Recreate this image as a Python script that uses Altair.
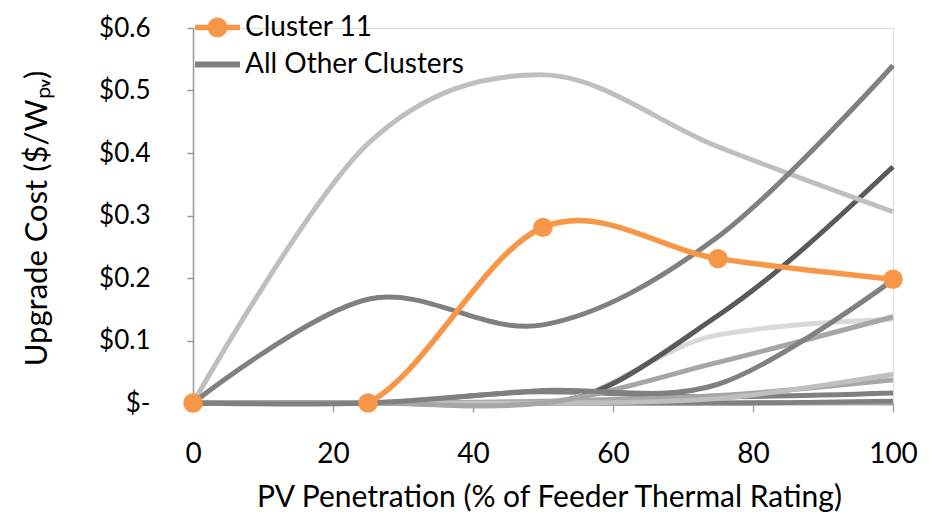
import altair as alt
import pandas as pd

# ---- data ----
x_pct = [0, 25, 50, 75, 100]
cluster11 = [0.0, 0.0, 0.281, 0.231, 0.198]

other_series = {
    "c01": [0.0, 0.415, 0.525, 0.41, 0.306],
    "c02": [0.0, 0.166, 0.125, 0.266, 0.54],
    "c03": [0.0, 0.0, 0.0, 0.14, 0.378],
    "c04": [0.0, 0.0, 0.02, 0.03, 0.197],
    "c05": [0.0, 0.0, 0.0, 0.109, 0.134],
    "c06": [0.0, 0.0, 0.0, 0.065, 0.138],
    "c07": [0.0, 0.0, 0.0, 0.007, 0.046],
    "c08": [0.0, 0.0, 0.003, 0.012, 0.037],
    "c09": [0.0, 0.0, 0.018, 0.01, 0.016],
    "c10": [0.0, 0.0, 0.0, 0.0, 0.003],
    "c11": [0.0, 0.0, 0.0, 0.0, 0.0],
}
other_colors = {
    "c01": "#BFBFBF", "c02": "#808080", "c03": "#5A5A5A", "c04": "#808080",
    "c05": "#D9D9D9", "c06": "#A6A6A6", "c07": "#BFBFBF", "c08": "#A6A6A6",
    "c09": "#808080", "c10": "#808080", "c11": "#A6A6A6",
}
other_smooth = {
    "c01": "cardinal", "c02": "cardinal", "c03": "monotone", "c04": "cardinal",
    "c05": "monotone", "c06": "cardinal", "c07": "cardinal", "c08": "cardinal",
    "c09": "monotone", "c10": "monotone", "c11": "monotone",
}
draw_order = ["c11", "c10", "c09", "c08", "c07", "c05", "c03", "c06", "c04", "c01", "c02"]

legend_labels = ["Cluster 11", "All Other Clusters"]
legend_colors = ["#F79646", "#808080"]
legend_paths = [
    "M -1 -0.12 L 1 -0.12 L 1 0.12 L -1 0.12 Z "
    "M 0 -0.44 A 0.44 0.44 0 1 1 0 0.44 A 0.44 0.44 0 1 1 0 -0.44 Z",
    "M -1 -0.13 L 1 -0.13 L 1 0.13 L -1 0.13 Z",
]

x_ticks = [0, 20, 40, 60, 80, 100]
y_ticks = [0.0, 0.1, 0.2, 0.3, 0.4, 0.5, 0.6]
y_tick_labels = ["$-", "$0.1", "$0.2", "$0.3", "$0.4", "$0.5", "$0.6"]

x_title = "PV Penetration (% of Feeder Thermal Rating)"
y_title = "Upgrade Cost ($/Wₚᵥ)"

# ---- tables ----
rows = []
for k, sid in enumerate(draw_order):
    for xv, yv in zip(x_pct, other_series[sid]):
        rows.append({"series": sid, "order": k, "x": xv, "y": yv,
                     "color": other_colors[sid], "interp": other_smooth[sid]})
others_df = pd.DataFrame(rows)
c11_df = pd.DataFrame({"x": x_pct, "y": cluster11, "legend": legend_labels[0]})

label_expr = "''"
for v, lab in reversed(list(zip(y_ticks, y_tick_labels))):
    label_expr = f"abs(datum.value - {v}) < 1e-6 ? '{lab}' : ({label_expr})"

FONT = "Lato"

x_enc = alt.X(
    "x:Q",
    scale=alt.Scale(domain=[0, 100], nice=False, zero=False),
    axis=alt.Axis(
        values=x_ticks, title=x_title, grid=False, domain=True, domainColor="#A6A6A6",
        tickColor="#A6A6A6", tickSize=9, tickWidth=1.5, labelPadding=28,
        labelFontSize=28, labelFont=FONT, labelColor="black", labelFlush=False,
        titleFont=FONT, titleFontSize=30, titleFontWeight="normal", titleColor="black",
        titleX=356, titleY=94, titleBaseline="middle", titleAlign="center",
    ),
)
y_axis = alt.Axis(
    values=y_ticks, labelExpr=label_expr, title=y_title, grid=False,
    domainColor="#999999", domainWidth=1.5, tickColor="#999999", tickSize=6, tickWidth=1.5,
    labelPadding=37, labelFontSize=26, labelFont=FONT, labelColor="black",
    labelBaseline="middle",
    titleFont=FONT, titleFontSize=31, titleFontWeight="normal", titleColor="black",
    titleAngle=270, titleX=-156, titleY=190, titleBaseline="middle", titleAlign="center",
)
y_enc = alt.Y("y:Q", scale=alt.Scale(domain=[0, 0.6], nice=False), axis=y_axis)


def gray_layer(kind):
    return alt.Chart(others_df).transform_filter(
        alt.datum.interp == kind
    ).mark_line(
        interpolate=kind, tension=0, strokeWidth=5, strokeCap="butt"
    ).encode(
        x=x_enc, y=y_enc,
        color=alt.Color("color:N", scale=None),
        detail="series:N",
        order=alt.Order("x:Q"),
    )


gray_mono = gray_layer("monotone")
gray_card = gray_layer("cardinal")

orange_line = alt.Chart(c11_df).mark_line(
    interpolate="cardinal", tension=0, strokeWidth=5.5, color="#F79646", clip=True
).encode(x="x:Q", y="y:Q")

orange_pts = alt.Chart(c11_df).mark_circle(size=380, opacity=1, color="#F79646").encode(
    x="x:Q", y="y:Q"
)

leg = alt.Legend(
    title=None, orient="none", legendX=2, legendY=-23, padding=0, rowPadding=0,
    symbolSize=2025, symbolStrokeWidth=0, labelFont=FONT, labelFontSize=28,
    labelColor="black", labelLimit=500, labelOffset=5,
)
legend_layer = alt.Chart(c11_df).mark_point(
    filled=True, size=2025, opacity=1, strokeWidth=0
).encode(
    x="x:Q", y="y:Q",
    color=alt.Color("legend:N", scale=alt.Scale(domain=legend_labels, range=legend_colors), legend=leg),
    shape=alt.Shape("legend:N", scale=alt.Scale(domain=legend_labels, range=legend_paths), legend=leg),
).transform_filter("false")

chart = alt.layer(gray_mono, gray_card, orange_line, orange_pts, legend_layer).properties(
    width=700, height=375,
    padding={"left": 185, "top": 20, "right": 51, "bottom": 112},
    autosize=alt.AutoSizeParams(type="none"),
).configure_view(stroke=None).configure(font=FONT)

chart.save("out.html", embed_options={"renderer": "svg", "actions": False})
